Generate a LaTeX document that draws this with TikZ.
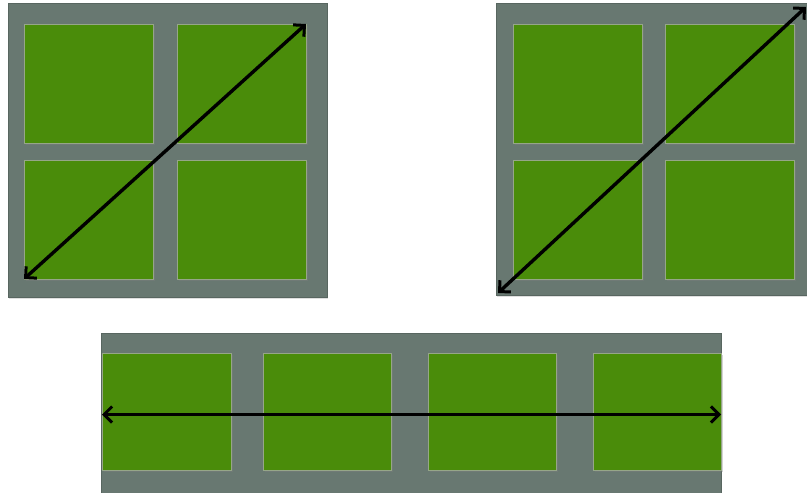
\documentclass[tikz,border=0pt]{standalone}
\usetikzlibrary{arrows.meta,shadows}
\definecolor{slate}{RGB}{104,120,113}
\definecolor{grass}{RGB}{74,140,10}
\definecolor{rim}{RGB}{150,166,136}
\begin{document}
\begin{tikzpicture}[x=1pt,y=-1pt,
  frame/.style={draw=slate!85!black, fill=slate, line width=0.6pt, inner sep=0pt, outer sep=0pt, anchor=north west,
    drop shadow={shadow xshift=1pt, shadow yshift=-1.5pt, opacity=0.25}},
  pane/.style={draw=rim, fill=grass, line width=1pt, inner sep=0pt, outer sep=0pt, anchor=north west,
    minimum width=129pt, minimum height=119pt,
    drop shadow={shadow xshift=1.5pt, shadow yshift=-2pt, opacity=0.35}},
  barb/.tip={Straight Barb[length=8pt,width=16pt,line width=3pt]},
  dbl/.style={barb-barb, line width=3.4pt, draw=black}]
\useasboundingbox (0,0) rectangle (807,493);
% panel 1
\node[frame, minimum width=319pt, minimum height=294pt] (f1) at (8,3) {};
\node[pane] (g11) at (24,24) {};
\node[pane] (g12) at (177,24) {};
\node[pane] (g13) at (24,160) {};
\node[pane] (g14) at (177,160) {};
\draw[dbl] (g13.south west) -- (g12.north east);
% panel 2
\node[frame, minimum width=311pt, minimum height=292pt] (f2) at (496,3) {};
\node[pane] (g21) at (513,24) {};
\node[pane] (g22) at (665,24) {};
\node[pane] (g23) at (513,160) {};
\node[pane] (g24) at (665,160) {};
\draw[dbl] ([xshift=2pt,yshift=2pt]f2.south west) -- ([xshift=-1pt,yshift=-4pt]f2.north east);
% panel 3
\node[frame, minimum width=620pt, minimum height=162pt] (f3) at (101,333) {};
\node[pane, minimum height=117pt] (g31) at (102,353) {};
\node[pane, minimum height=117pt, minimum width=128pt] (g32) at (263,353) {};
\node[pane, minimum height=117pt, minimum width=128pt] (g33) at (428,353) {};
\node[pane, minimum height=117pt, minimum width=128pt] (g34) at (593,353) {};
\draw[dbl] ([yshift=-3pt]g31.west) -- ([yshift=-3pt]g34.east);
\end{tikzpicture}
\end{document}
